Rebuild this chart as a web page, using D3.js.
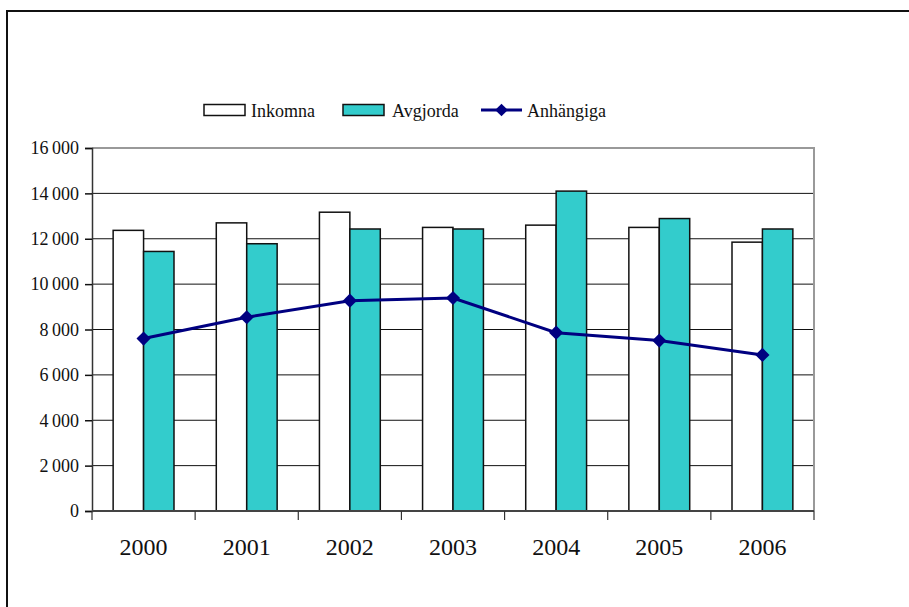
<!DOCTYPE html>
<html>
<head>
<meta charset="utf-8">
<script src="https://cdn.jsdelivr.net/npm/d3@7"></script>
<style>
  body { margin: 0; background: #fff; }
  svg { display: block; }
  text { font-family: "Liberation Serif", "DejaVu Serif", serif; }
</style>
</head>
<body>
<svg id="chart" width="909" height="607"></svg>
<script>
const years = ["2000", "2001", "2002", "2003", "2004", "2005", "2006"];
const inkomna = [12370, 12700, 13170, 12500, 12600, 12500, 11850];
const avgjorda = [11440, 11780, 12430, 12430, 14100, 12890, 12430];
const anhangiga = [7600, 8540, 9270, 9390, 7860, 7510, 6880];
const yTicks = [0, 2000, 4000, 6000, 8000, 10000, 12000, 14000, 16000];

const serif = "Liberation Serif, DejaVu Serif, serif";
const svg = d3.select("#chart");
const margin = { top: 148, right: 95, bottom: 96, left: 92 };
const width = 909 - margin.left - margin.right;
const height = 607 - margin.top - margin.bottom;

// outer frame (runs off right/bottom edge)
svg.append("rect")
    .attr("x", 7).attr("y", 11)
    .attr("width", 950).attr("height", 650)
    .attr("fill", "none").attr("stroke", "#111").attr("stroke-width", 2);

const g = svg.append("g").attr("transform", `translate(${margin.left},${margin.top})`);

const x = d3.scaleBand().domain(years).range([0, width]).padding(0);
const bw = x.bandwidth();
const xs = d3.scaleBand().domain(["inkomna", "avgjorda"]).range([bw * 0.205, bw * 0.795]);
const y = d3.scaleLinear().domain([0, 16000]).range([height, 0]);

// gridlines
g.selectAll(".grid")
    .data(yTicks.filter(d => d > 0 && d < 16000))
    .join("line")
    .attr("x1", 0).attr("x2", width)
    .attr("y1", d => y(d)).attr("y2", d => y(d))
    .attr("stroke", "#111").attr("stroke-width", 1);

// plot border top/right
g.append("path")
    .attr("d", `M0,${y(16000)}H${width}V${height}`)
    .attr("fill", "none").attr("stroke", "#999").attr("stroke-width", 2);

// bars
const rows = years.map((yr, i) => ({ year: yr, inkomna: inkomna[i], avgjorda: avgjorda[i], anh: anhangiga[i] }));
const colors = { inkomna: "#ffffff", avgjorda: "#33cccc" };

["inkomna", "avgjorda"].forEach(key => {
    g.selectAll(".bar-" + key)
        .data(rows)
        .join("rect")
        .attr("x", d => x(d.year) + xs(key))
        .attr("y", d => y(d[key]))
        .attr("width", xs.bandwidth())
        .attr("height", d => height - y(d[key]))
        .attr("fill", colors[key])
        .attr("stroke", "#111").attr("stroke-width", 1.5);
});

// y axis
const yAxis = d3.axisLeft(y).tickValues(yTicks).tickSize(7).tickPadding(6)
    .tickFormat(d => d3.format(",")(d).replace(",", "\u2009"));
const yg = g.append("g").call(yAxis).attr("font-family", serif).attr("font-size", 18);
yg.select(".domain").attr("stroke", "#333").attr("stroke-width", 1.5);
yg.selectAll(".tick line").attr("stroke", "#111").attr("stroke-width", 1.5);
yg.selectAll("text").attr("fill", "#111");

// x axis
const xg = g.append("g").attr("transform", `translate(0,${height})`);
xg.append("line").attr("x1", 0).attr("x2", width).attr("stroke", "#444").attr("stroke-width", 2);
xg.selectAll(".xtick")
    .data(years.map(yr => x(yr)).concat([width]))
    .join("line")
    .attr("x1", d => d).attr("x2", d => d)
    .attr("y1", 0).attr("y2", 9)
    .attr("stroke", "#333").attr("stroke-width", 1.2);
xg.selectAll(".xlabel")
    .data(years)
    .join("text")
    .attr("x", d => x(d) + bw / 2)
    .attr("y", 44)
    .attr("text-anchor", "middle")
    .attr("font-family", serif)
    .attr("font-size", 24)
    .attr("fill", "#111")
    .text(d => d);

// line
const line = d3.line().x(d => x(d.year) + bw / 2).y(d => y(d.anh));
g.append("path")
    .datum(rows)
    .attr("d", line)
    .attr("fill", "none").attr("stroke", "#000080").attr("stroke-width", 3);

g.selectAll(".pt")
    .data(rows)
    .join("path")
    .attr("transform", d => `translate(${x(d.year) + bw / 2},${y(d.anh)}) rotate(45)`)
    .attr("d", d3.symbol().type(d3.symbolSquare).size(100))
    .attr("fill", "#000080");

// legend
const leg = svg.append("g");
const legendItems = [
    { label: "Inkomna", type: "rect", fill: "#ffffff", x: 204, tx: 251 },
    { label: "Avgjorda", type: "rect", fill: "#33cccc", x: 343, tx: 392 },
    { label: "Anh\u00e4ngiga", type: "line", x: 481, tx: 527 }
];
legendItems.forEach(it => {
    if (it.type === "rect") {
        leg.append("rect").attr("x", it.x).attr("y", 104.5).attr("width", 41).attr("height", 11)
            .attr("fill", it.fill).attr("stroke", "#111").attr("stroke-width", 1.5);
    } else {
        leg.append("line").attr("x1", it.x).attr("x2", it.x + 41).attr("y1", 110).attr("y2", 110)
            .attr("stroke", "#000080").attr("stroke-width", 3);
        leg.append("path").attr("transform", `translate(${it.x + 20.5},110) rotate(45)`)
            .attr("d", d3.symbol().type(d3.symbolSquare).size(80)).attr("fill", "#000080");
    }
    leg.append("text").attr("x", it.tx).attr("y", 116.5)
        .attr("font-family", serif)
        .attr("font-size", 18).attr("fill", "#111").text(it.label);
});
</script>
</body>
</html>
